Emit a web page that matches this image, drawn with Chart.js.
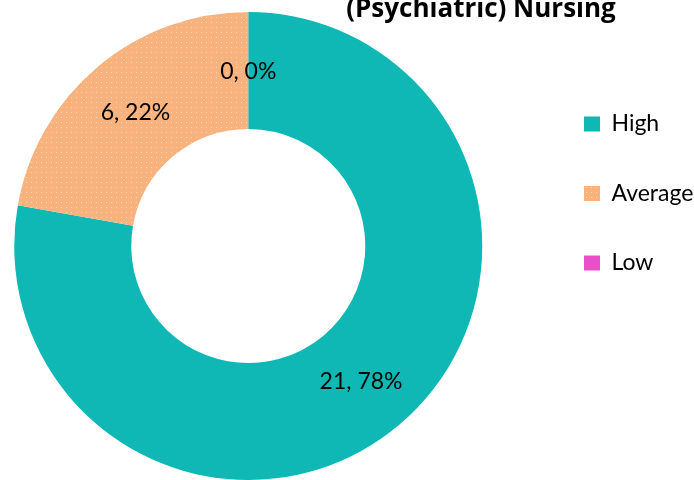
<!DOCTYPE html>
<html>
<head>
<meta charset="utf-8">
<script src="https://cdn.jsdelivr.net/npm/chart.js@4.4.1/dist/chart.umd.min.js"></script>
<style>
    html, body { margin: 0; padding: 0; background: #fff; overflow: hidden; }
    #wrap { position: relative; width: 694px; height: 480px; overflow: hidden; }
    /* canvas is a bit wider than the window and pulled left, so the
       doughnut can sit closer to the left edge than the layout allows */
    #chart { display: block; position: absolute; left: -41px; top: 0; }
    #title {
        position: absolute; left: 281px; top: -6px; width: 400px;
        text-align: center; white-space: nowrap; color: #000;
        font: bold 26px "Open Sans", sans-serif; line-height: 26px;
    }
</style>
</head>
<body>
<div id="wrap">
    <canvas id="chart" width="735" height="480"></canvas>
    <div id="title">(Psychiatric) Nursing</div>
</div>
<script>
// values
const categories = ['High', 'Average', 'Low'];
const counts = [21, 6, 0];
const percents = [78, 22, 0];

const colors = {
    high: '#0FB8B5',
    average: '#F8B27E',
    low: '#E84FC8'
};

// light dotted fill, like the Average slice in the original
function dottedPattern(base) {
    const c = document.createElement('canvas');
    c.width = 5;
    c.height = 5;
    const g = c.getContext('2d');
    g.fillStyle = base;
    g.fillRect(0, 0, 5, 5);
    g.fillStyle = 'rgba(255,255,255,0.45)';
    g.fillRect(2, 2, 1, 1);
    return g.createPattern(c, 'repeat');
}

// "count, percent%" label at the middle of every slice
const sliceLabels = {
    id: 'sliceLabels',
    afterDatasetsDraw(chart) {
        const ctx = chart.ctx;
        const meta = chart.getDatasetMeta(0);
        ctx.save();
        ctx.font = '23px Lato, sans-serif';
        ctx.fillStyle = '#000';
        ctx.textAlign = 'center';
        ctx.textBaseline = 'middle';
        meta.data.forEach((arc, i) => {
            const pos = arc.tooltipPosition(true);
            ctx.fillText(counts[i] + ', ' + percents[i] + '%', pos.x, pos.y + 1);
        });
        ctx.restore();
    }
};

new Chart(document.getElementById('chart'), {
    type: 'doughnut',
    data: {
        labels: categories,
        datasets: [{
            data: counts,
            backgroundColor: [colors.high, dottedPattern(colors.average), colors.low],
            borderWidth: 0,
            hoverOffset: 0,
            clip: false
        }]
    },
    options: {
        responsive: false,
        animation: false,
        events: [],
        radius: 234,
        cutout: '50%',
        layout: {
            padding: { top: 66, bottom: 54, left: 0, right: 0 }
        },
        plugins: {
            title: { display: false },
            tooltip: { enabled: false },
            legend: {
                position: 'right',
                align: 'start',
                maxWidth: 156.5,
                labels: {
                    boxWidth: 16,
                    boxHeight: 15,
                    padding: 46.5,
                    color: '#000',
                    font: { family: 'Lato', size: 23 }
                }
            }
        }
    },
    plugins: [sliceLabels]
});
</script>
</body>
</html>
